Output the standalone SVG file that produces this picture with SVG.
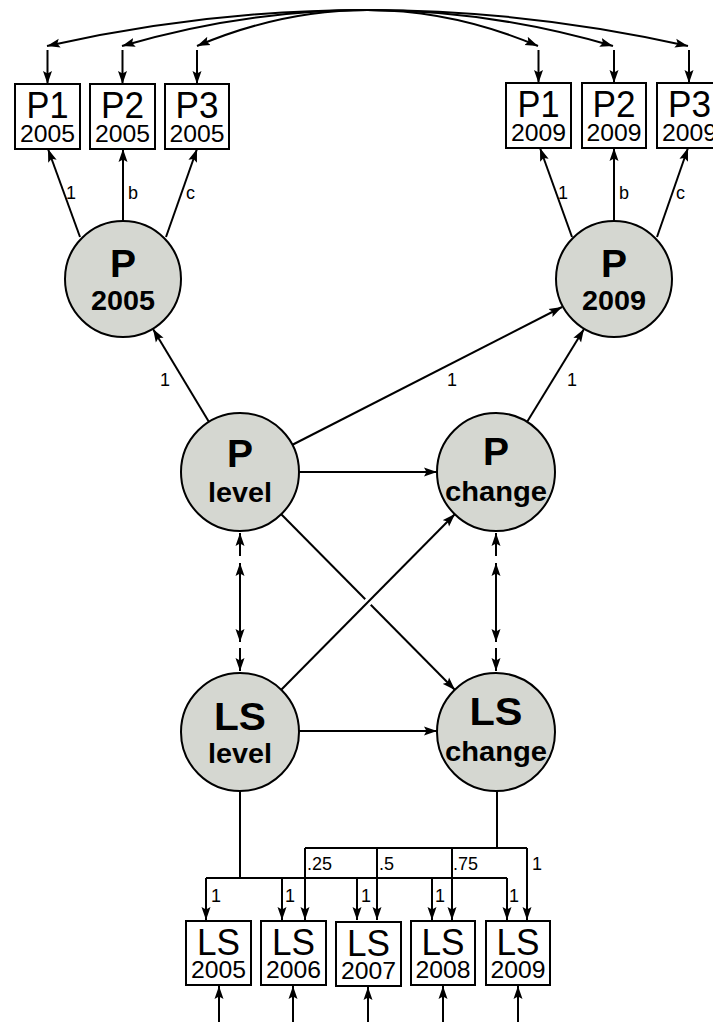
<svg xmlns="http://www.w3.org/2000/svg" width="713" height="1022" viewBox="0 0 713 1022">
<style>
.ln{stroke:#000;stroke-width:2;fill:none}
.ar{marker-end:url(#ah)}
.bi{marker-start:url(#ahs);marker-end:url(#ah)}
.box{fill:#fff;stroke:#000;stroke-width:2}
.lat{fill:#d5d7d1;stroke:#000;stroke-width:2}
.big{font-family:"Liberation Sans",Arial,sans-serif;font-size:37px;text-anchor:middle}
.yr{font-family:"Liberation Sans",Arial,sans-serif;font-size:24px;text-anchor:middle}
.bb{font-family:"Liberation Sans",Arial,sans-serif;font-size:39px;font-weight:bold;text-anchor:middle}
.bs{font-family:"Liberation Sans",Arial,sans-serif;font-size:27px;font-weight:bold;text-anchor:middle}
.lb{font-family:"Liberation Sans",Arial,sans-serif;font-size:18px}
</style>
<defs>
<marker id="ah" markerUnits="userSpaceOnUse" markerWidth="14" markerHeight="10" refX="13" refY="5" orient="auto">
<path d="M0,0.5 L13,5 L0,9.5 L2.5,5 z" fill="#000"/>
</marker>
<marker id="ahs" markerUnits="userSpaceOnUse" markerWidth="14" markerHeight="10" refX="13" refY="5" orient="auto-start-reverse">
<path d="M0,0.5 L13,5 L0,9.5 L2.5,5 z" fill="#000"/>
</marker>
</defs>
<rect width="713" height="1022" fill="#fff"/>
<g id="connectors">
<path class="ln bi" d="M47,46 Q367.5,-26 688,46"/>
<path class="ln bi" d="M122,46 Q367.5,-26 613,46"/>
<path class="ln bi" d="M197,46 Q367.5,-26 538,46"/>
<path class="ln ar" d="M47.5,50 L47.5,84"/>
<path class="ln ar" d="M122.5,50 L122.5,84"/>
<path class="ln ar" d="M197,50 L197,84"/>
<path class="ln ar" d="M538.5,50 L538.5,83"/>
<path class="ln ar" d="M614,50 L614,83"/>
<path class="ln ar" d="M689,50 L689,83"/>
<path class="ln ar" d="M80,237 L48,149"/>
<path class="ln ar" d="M123,221 L123,149"/>
<path class="ln ar" d="M166,237 L197,149"/>
<path class="ln ar" d="M572,237 L540,148"/>
<path class="ln ar" d="M614,221 L614,148"/>
<path class="ln ar" d="M657,237 L688,148"/>
<path class="ln ar" d="M209,422 L153,329"/>
<path class="ln ar" d="M292,445 L562,307"/>
<path class="ln ar" d="M527,422 L584,329"/>
<path class="ln ar" d="M299,472 L437,472"/>
<path class="ln ar" d="M299,731 L437,731"/>
<path class="ln ar" d="M281,514 L455,690"/>
<path d="M359.6,610.5 L376.4,593.5" stroke="#fff" stroke-width="8" fill="none"/>
<path class="ln ar" d="M281,690 L455,514"/>
<path class="ln ar" d="M240,556 L240,533"/>
<path class="ln bi" d="M240,563 L240,642"/>
<path class="ln ar" d="M240,648 L240,671"/>
<path class="ln ar" d="M496,556 L496,533"/>
<path class="ln bi" d="M496,563 L496,642"/>
<path class="ln ar" d="M496,648 L496,671"/>
<path class="ln" d="M240,791 L240,878 M206,878 L507,878"/>
<path class="ln ar" d="M206,878 L206,920"/>
<path class="ln ar" d="M282,878 L282,920"/>
<path class="ln ar" d="M357,878 L357,920"/>
<path class="ln ar" d="M432,878 L432,920"/>
<path class="ln ar" d="M507,878 L507,920"/>
<path class="ln" d="M497,791 L497,848 M305,848 L527,848"/>
<path class="ln ar" d="M305,848 L305,920"/>
<path class="ln ar" d="M377,848 L377,920"/>
<path class="ln ar" d="M452,848 L452,920"/>
<path class="ln ar" d="M527,848 L527,920"/>
<path class="ln ar" d="M219,1022 L219,986"/>
<path class="ln ar" d="M293,1022 L293,986"/>
<path class="ln ar" d="M368,1022 L368,987"/>
<path class="ln ar" d="M443,1022 L443,986"/>
<path class="ln ar" d="M518,1022 L518,986"/>
<text class="lb" x="66" y="199">1</text>
<text class="lb" x="128" y="199">b</text>
<text class="lb" x="186" y="199">c</text>
<text class="lb" x="558" y="199">1</text>
<text class="lb" x="619" y="199">b</text>
<text class="lb" x="676" y="199">c</text>
<text class="lb" x="160" y="386">1</text>
<text class="lb" x="447" y="386">1</text>
<text class="lb" x="567" y="386">1</text>
<text class="lb" x="307" y="870">.25</text>
<text class="lb" x="379" y="870">.5</text>
<text class="lb" x="453" y="870">.75</text>
<text class="lb" x="532" y="870">1</text>
<text class="lb" x="211" y="902">1</text>
<text class="lb" x="285" y="902">1</text>
<text class="lb" x="361" y="902">1</text>
<text class="lb" x="435" y="902">1</text>
<text class="lb" x="509" y="902">1</text>
</g>
<g id="P1_2005"><rect class="box" x="15" y="84" width="65" height="65"/><text class="big" x="47.5" y="118" textLength="42" lengthAdjust="spacingAndGlyphs">P1</text><text class="yr" x="47.5" y="142" textLength="55" lengthAdjust="spacingAndGlyphs">2005</text></g>
<g id="P2_2005"><rect class="box" x="90" y="84" width="65" height="65"/><text class="big" x="122.5" y="118" textLength="43" lengthAdjust="spacingAndGlyphs">P2</text><text class="yr" x="122.5" y="142" textLength="55" lengthAdjust="spacingAndGlyphs">2005</text></g>
<g id="P3_2005"><rect class="box" x="165" y="84" width="64" height="65"/><text class="big" x="197" y="118" textLength="43" lengthAdjust="spacingAndGlyphs">P3</text><text class="yr" x="197" y="142" textLength="55" lengthAdjust="spacingAndGlyphs">2005</text></g>
<g id="P1_2009"><rect class="box" x="506" y="83" width="65" height="65"/><text class="big" x="538.5" y="117" textLength="42" lengthAdjust="spacingAndGlyphs">P1</text><text class="yr" x="538.5" y="141" textLength="55" lengthAdjust="spacingAndGlyphs">2009</text></g>
<g id="P2_2009"><rect class="box" x="582" y="83" width="64" height="65"/><text class="big" x="614" y="117" textLength="43" lengthAdjust="spacingAndGlyphs">P2</text><text class="yr" x="614" y="141" textLength="55" lengthAdjust="spacingAndGlyphs">2009</text></g>
<g id="P3_2009"><rect class="box" x="657" y="83" width="65" height="65"/><text class="big" x="689.5" y="117" textLength="43" lengthAdjust="spacingAndGlyphs">P3</text><text class="yr" x="689.5" y="141" textLength="55" lengthAdjust="spacingAndGlyphs">2009</text></g>
<g id="P_2005"><circle class="lat" cx="123" cy="279" r="58"/><text class="bb" x="123" y="277">P</text><text class="bs" x="123" y="310" textLength="64" lengthAdjust="spacingAndGlyphs">2005</text></g>
<g id="P_2009"><circle class="lat" cx="614" cy="279" r="58"/><text class="bb" x="614" y="277">P</text><text class="bs" x="614" y="310" textLength="64" lengthAdjust="spacingAndGlyphs">2009</text></g>
<g id="P_level"><circle class="lat" cx="240" cy="472" r="59"/><text class="bb" x="240" y="467">P</text><text class="bs" x="240" y="502" textLength="64" lengthAdjust="spacingAndGlyphs">level</text></g>
<g id="P_change"><circle class="lat" cx="496" cy="472" r="59"/><text class="bb" x="496" y="465">P</text><text class="bs" x="496" y="501" textLength="102" lengthAdjust="spacingAndGlyphs">change</text></g>
<g id="LS_level"><circle class="lat" cx="240" cy="732" r="59"/><text class="bb" x="240" y="730" textLength="52" lengthAdjust="spacingAndGlyphs">LS</text><text class="bs" x="240" y="763" textLength="64" lengthAdjust="spacingAndGlyphs">level</text></g>
<g id="LS_change"><circle class="lat" cx="496" cy="732" r="59"/><text class="bb" x="496" y="725" textLength="53" lengthAdjust="spacingAndGlyphs">LS</text><text class="bs" x="496" y="761" textLength="102" lengthAdjust="spacingAndGlyphs">change</text></g>
<g id="LS2005"><rect class="box" x="186" y="921" width="65" height="64"/><text class="big" x="218.5" y="955" textLength="43" lengthAdjust="spacingAndGlyphs">LS</text><text class="yr" x="218.5" y="978" textLength="55" lengthAdjust="spacingAndGlyphs">2005</text></g>
<g id="LS2006"><rect class="box" x="261" y="921" width="65" height="64"/><text class="big" x="293.5" y="955" textLength="43" lengthAdjust="spacingAndGlyphs">LS</text><text class="yr" x="293.5" y="978" textLength="55" lengthAdjust="spacingAndGlyphs">2006</text></g>
<g id="LS2007"><rect class="box" x="336" y="922" width="65" height="64"/><text class="big" x="368.5" y="956" textLength="43" lengthAdjust="spacingAndGlyphs">LS</text><text class="yr" x="368.5" y="979" textLength="55" lengthAdjust="spacingAndGlyphs">2007</text></g>
<g id="LS2008"><rect class="box" x="411" y="921" width="64" height="64"/><text class="big" x="443" y="955" textLength="43" lengthAdjust="spacingAndGlyphs">LS</text><text class="yr" x="443" y="978" textLength="55" lengthAdjust="spacingAndGlyphs">2008</text></g>
<g id="LS2009"><rect class="box" x="486" y="921" width="64" height="64"/><text class="big" x="518" y="955" textLength="43" lengthAdjust="spacingAndGlyphs">LS</text><text class="yr" x="518" y="978" textLength="55" lengthAdjust="spacingAndGlyphs">2009</text></g>
</svg>
